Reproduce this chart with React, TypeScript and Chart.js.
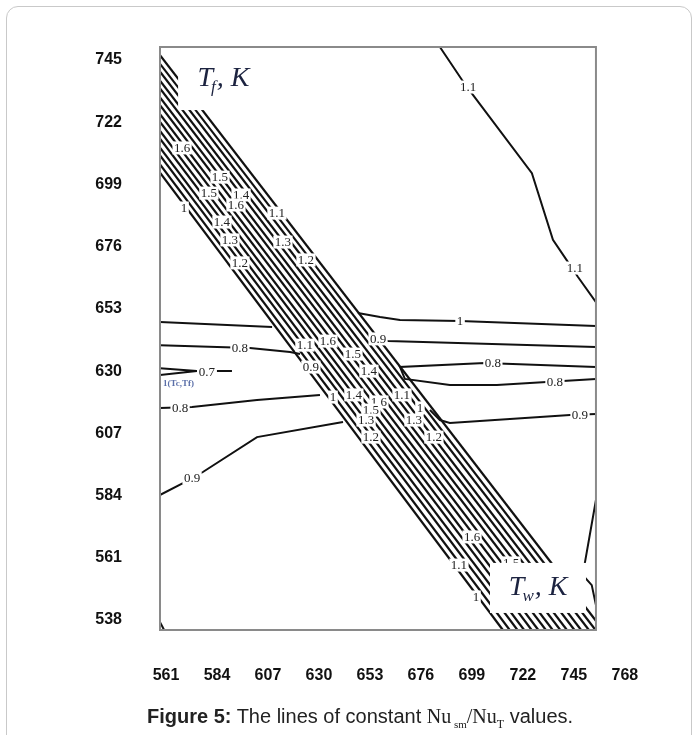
import React, { useEffect, useRef } from 'react';
import { Chart, registerables } from 'chart.js';

Chart.register(...registerables);

// ---- axis ticks ----
const X_TICKS = [561, 584, 607, 630, 653, 676, 699, 722, 745, 768];
const Y_TICKS = [538, 561, 584, 607, 630, 653, 676, 699, 722, 745];

// frame (plot box) bounds in data units
const X_MIN = 555.14;
const X_AXIS_MAX = 770;
const FRAME_X_MAX = 751.8;
const Y_MIN = 534.3;
const Y_MAX = 749.81;

// ---- dense ridge band (contour lines 1 ... 1.6 ... 1) ----
// each line: starts on the left frame at Tf, ends on the bottom frame at Tw
const bandStartTf = [746.8, 743.6, 740.7, 737.4, 734.5, 731.2, 728.3, 725.0, 722.1, 718.8, 715.9, 712.6, 709.7, 706.4, 703.4];
const bandEndTw = [755.0, 751.6, 748.6, 745.1, 742.1, 738.7, 735.7, 732.3, 729.2, 725.8, 722.8, 719.4, 716.4, 712.9, 709.8];

// ---- other contour lines [Tw, Tf] ----
const c1Left = [[555.1, 648.2], [605.7, 646.3]];
const c1Right = [[644.4, 651.5], [654.4, 650.0], [663.4, 648.9], [690.5, 648.5], [751.8, 646.7]];
const c08UpperLeft = [[555.1, 639.6], [595.7, 638.5], [613.8, 637.1], [618.3, 636.3]];
const c07Tip = [[555.1, 631.1], [571.8, 630.0], [555.1, 628.6]];
const c07Tail = [[580.8, 630.0], [587.6, 630.0]];
const c08LowerLeft = [[555.1, 616.4], [569.6, 616.7], [598.9, 619.3], [627.3, 621.2]];
const c09Left = [[555.1, 584.2], [565.5, 588.6], [574.5, 592.7], [598.9, 605.6], [637.7, 611.2]];
const c09UpperRight = [[650.0, 642.0], [658.0, 641.1], [673.8, 640.8], [751.8, 638.9]];
const c08Loop = [[751.8, 631.5], [701.7, 633.0], [663.4, 631.5], [665.6, 627.1], [685.9, 624.9], [707.1, 624.9], [751.8, 627.1]];
const c09LowerRight = [[676.9, 615.6], [681.4, 611.9], [685.9, 610.8], [740.1, 613.8], [751.8, 614.1]];
const c11Upper = [[681.4, 749.8], [691.4, 737.6], [696.3, 732.1], [722.9, 703.2], [732.4, 678.5], [739.2, 670.3], [743.7, 664.8], [751.8, 655.5]];
const cCornerRight = [[751.8, 582.4], [746.8, 559.1], [745.9, 554.6], [749.9, 550.9], [751.8, 543.5]];
const cCornerLeft = [[555.1, 537.3], [557.0, 534.3]];

const contourLines = [c1Left, c1Right, c08UpperLeft, c07Tip, c07Tail, c08LowerLeft, c09Left, c09UpperRight, c08Loop, c09LowerRight, c11Upper, cCornerRight, cCornerLeft];

// ---- contour value labels ----
const labelText = ['1.6', '1.5', '1.5', '1.4', '1.6', '1', '1.1', '1.4', '1.3', '1.3', '1.2', '1.2', '1.1', '1.6', '0.9', '1.5', '0.9', '1.4', '1', '1.4', '1.6', '1.1', '1.5', '1.3', '1.2', '1', '1.3', '1.2', '1.6', '1.1', '1.5', '1', '1', '0.8', '0.7', '0.8', '0.9', '0.8', '0.8', '0.9', '1.1', '1.1'];
const labelTw = [565.1, 582.2, 577.2, 591.7, 589.4, 566.0, 607.9, 583.1, 586.7, 610.6, 591.2, 621.0, 620.5, 630.9, 653.5, 642.2, 623.2, 649.4, 633.2, 642.6, 653.9, 664.3, 650.3, 648.1, 650.3, 672.4, 669.7, 678.7, 695.9, 690.0, 713.5, 697.7, 690.5, 591.2, 576.3, 564.2, 569.6, 705.3, 733.3, 744.6, 694.1, 742.3];
const labelTf = [712.5, 701.7, 695.8, 695.1, 691.4, 690.3, 688.4, 685.1, 678.5, 677.7, 670.0, 671.1, 639.6, 641.1, 641.9, 636.3, 631.5, 630.0, 620.4, 621.2, 618.6, 621.2, 615.6, 611.9, 605.6, 616.4, 611.9, 605.6, 568.7, 558.3, 559.1, 546.5, 648.5, 638.5, 629.7, 616.4, 590.5, 633.0, 626.0, 613.8, 735.0, 668.1];

const LINE_COLOR = '#111111';

function toPts(arr: number[][]) {
  return arr.map(([x, y]) => ({ x, y }));
}

const overlayPlugin = {
  id: 'overlay',
  beforeDatasetsDraw(chart: any) {
    const { ctx } = chart;
    const xs = chart.scales.x;
    const ys = chart.scales.y;
    const l = xs.getPixelForValue(X_MIN);
    const r = xs.getPixelForValue(FRAME_X_MAX);
    const t = ys.getPixelForValue(Y_MAX);
    const b = ys.getPixelForValue(Y_MIN);
    ctx.save();
    ctx.beginPath();
    ctx.rect(l, t, r - l, b - t);
    ctx.clip();
  },
  afterDatasetsDraw(chart: any) {
    const { ctx } = chart;
    ctx.restore();
    const xs = chart.scales.x;
    const ys = chart.scales.y;
    const px = (v: number) => xs.getPixelForValue(v);
    const py = (v: number) => ys.getPixelForValue(v);

    // contour labels
    ctx.save();
    ctx.font = '13px "Liberation Serif", serif';
    ctx.textAlign = 'center';
    ctx.textBaseline = 'middle';
    for (let i = 0; i < labelText.length; i++) {
      const x = px(labelTw[i]);
      const y = py(labelTf[i]);
      const w = ctx.measureText(labelText[i]).width;
      ctx.fillStyle = '#ffffff';
      ctx.fillRect(x - w / 2 - 1.5, y - 6.5, w + 3, 13);
      ctx.fillStyle = '#222222';
      ctx.fillText(labelText[i], x, y + 0.5);
    }

    // blue note
    ctx.font = 'bold 9px "Liberation Serif", serif';
    ctx.textAlign = 'left';
    ctx.fillStyle = '#5b6fa8';
    ctx.fillText('1(Tc,Tf)', px(556.5), py(625.2));

    // white boxes behind the axis names
    ctx.fillStyle = '#ffffff';
    ctx.fillRect(px(563.3), py(749.4), px(602.5) - px(563.3), py(726.5) - py(749.4));
    ctx.fillRect(px(704.0), py(559.1), px(747.3) - px(704.0), py(540.6) - py(559.1));

    const drawAxisName = (x: number, y: number, sub: string) => {
      ctx.fillStyle = '#1c2340';
      ctx.textBaseline = 'alphabetic';
      ctx.font = 'italic 28px "Liberation Serif", serif';
      ctx.fillText('T', x, y);
      let cx = x + ctx.measureText('T').width - 2;
      ctx.font = 'italic 17px "Liberation Serif", serif';
      ctx.fillText(sub, cx, y + 6);
      cx += ctx.measureText(sub).width + 1;
      ctx.font = 'italic 28px "Liberation Serif", serif';
      ctx.fillText(', K', cx, y);
    };
    drawAxisName(px(572.0), py(735.5), 'f');
    drawAxisName(px(712.5), py(547.2), 'w');
    ctx.restore();

    // frame
    ctx.save();
    ctx.strokeStyle = '#8a8a8a';
    ctx.lineWidth = 2;
    const l = px(X_MIN);
    const r = px(FRAME_X_MAX);
    const t = py(Y_MAX);
    const b = py(Y_MIN);
    ctx.strokeRect(l, t, r - l, b - t);
    ctx.restore();
  },
};

export default function App() {
  const ref = useRef<HTMLCanvasElement>(null);

  useEffect(() => {
    const bandSets = bandStartTf.map((tf, i) => ({
      data: [{ x: X_MIN, y: tf }, { x: bandEndTw[i], y: Y_MIN }],
      borderColor: LINE_COLOR,
      borderWidth: 2.2,
    }));
    const contourSets = contourLines.map((arr) => ({
      data: toPts(arr),
      borderColor: LINE_COLOR,
      borderWidth: 2,
    }));
    const tickFont = { family: '"Liberation Sans", Arial, sans-serif', size: 16, weight: 'bold' as const };

    const chart = new Chart(ref.current as HTMLCanvasElement, {
      type: 'scatter',
      data: {
        datasets: [...bandSets, ...contourSets].map((d) => ({
          ...d,
          showLine: true,
          pointRadius: 0,
          tension: 0,
          fill: false,
        })),
      },
      options: {
        animation: false,
        responsive: false,
        devicePixelRatio: 1,
        events: [],
        layout: { padding: { left: 59, top: 47, right: 62.7, bottom: 25 } },
        plugins: { legend: { display: false }, tooltip: { enabled: false } },
        scales: {
          x: {
            type: 'linear',
            min: X_MIN,
            max: X_AXIS_MAX,
            grid: { display: false },
            border: { display: false },
            afterBuildTicks: (s: any) => {
              s.ticks = X_TICKS.map((v) => ({ value: v }));
            },
            afterFit: (s: any) => {
              s.height = 80;
            },
            ticks: {
              autoSkip: false,
              maxRotation: 0,
              padding: 28,
              labelOffset: -7,
              color: '#111111',
              font: tickFont,
              callback: (v: any) => String(v),
            },
          },
          y: {
            type: 'linear',
            min: Y_MIN,
            max: Y_MAX,
            grid: { display: false },
            border: { display: false },
            afterBuildTicks: (s: any) => {
              s.ticks = Y_TICKS.map((v) => ({ value: v }));
            },
            afterFit: (s: any) => {
              s.width = 101;
            },
            ticks: {
              autoSkip: false,
              padding: 30,
              color: '#111111',
              font: tickFont,
              callback: (v: any) => String(v),
            },
          },
        },
      },
      plugins: [overlayPlugin],
    });
    return () => chart.destroy();
  }, []);

  return (
    <div style={{ position: 'absolute', left: 0, top: 0, width: 699, height: 735, overflow: 'hidden', background: '#ffffff' }}>
      <div
        style={{
          position: 'absolute',
          left: 6,
          top: 6,
          width: 684,
          height: 780,
          border: '1px solid #c9c9c9',
          borderRadius: 12,
        }}
      />
      <canvas ref={ref} width={699} height={735} style={{ position: 'absolute', left: 0, top: 0, width: 699, height: 735 }} />
      <div
        style={{
          position: 'absolute',
          left: 147,
          top: 704,
          fontFamily: '"Liberation Sans", Arial, sans-serif',
          fontSize: 20,
          color: '#222',
          whiteSpace: 'nowrap',
          lineHeight: '24px',
        }}
      >
        <b>Figure 5:</b> The lines of constant{' '}
        <span style={{ fontFamily: '"Liberation Serif", "Times New Roman", serif' }}>
          Nu<sub style={{ fontSize: 11 }}> sm</sub>/Nu<sub style={{ fontSize: 12 }}>T</sub>
        </span>{' '}
        values.
      </div>
    </div>
  );
}
